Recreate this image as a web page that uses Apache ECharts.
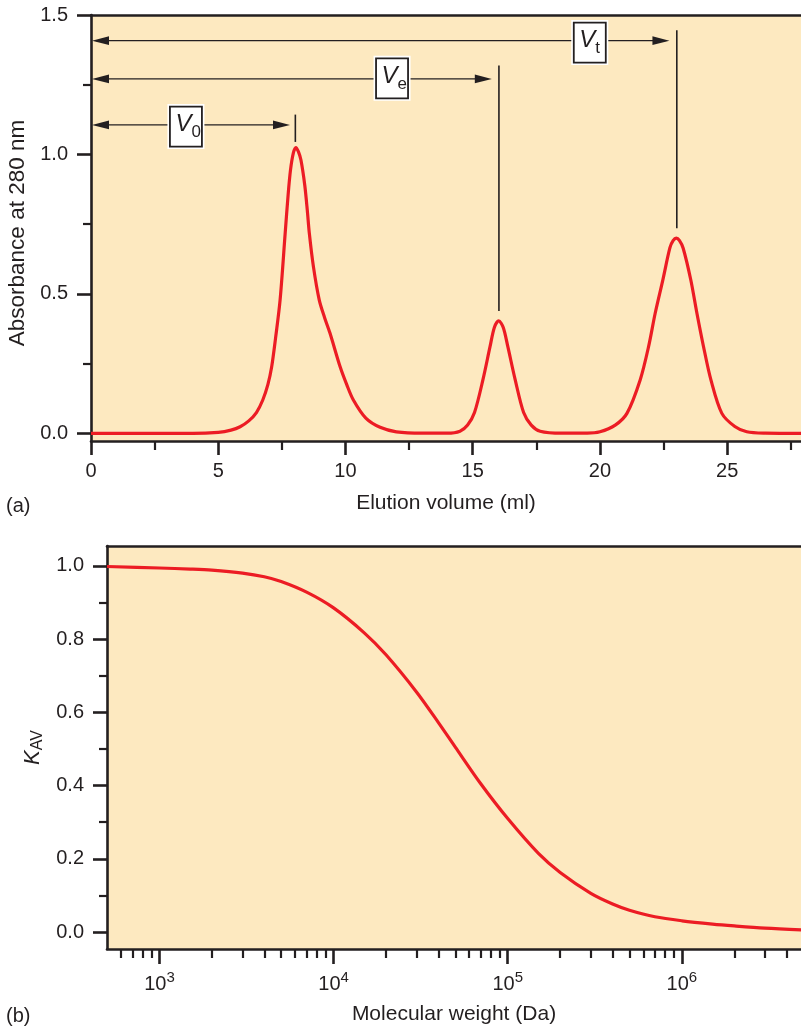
<!DOCTYPE html>
<html>
<head>
<meta charset="utf-8">
<script src="https://cdn.jsdelivr.net/npm/echarts@6/dist/echarts.min.js"></script>
<style>
  html, body { margin: 0; padding: 0; background: #fff; }
  #chart { width: 801px; height: 1027px; }
</style>
</head>
<body>
<div id="chart"></div>
<script>
// (a) elution profile
const elutionVolume = [0, 2, 4, 5, 5.5, 5.86, 6.2, 6.5, 6.75, 6.95, 7.1, 7.25, 7.43, 7.63, 7.75, 7.84, 7.95, 8.05, 8.15, 8.25, 8.4, 8.5, 8.58, 8.74, 8.97, 9.18, 9.39, 9.79, 10.05, 10.31, 10.8, 11.36, 12, 13, 14, 14.5, 14.8, 15.07, 15.4, 15.68, 15.85, 16.02, 16.2, 16.38, 16.67, 17.0, 17.3, 17.65, 18.5, 19.5, 20.0, 20.6, 21.06, 21.58, 21.91, 22.17, 22.47, 22.75, 22.88, 23.0, 23.12, 23.27, 23.57, 23.81, 24.07, 24.36, 24.79, 25.3, 25.77, 26.5, 27.9];
const absorbance    = [0, 0, 0, 0.004, 0.012, 0.024, 0.045, 0.075, 0.12, 0.175, 0.239, 0.34, 0.478, 0.717, 0.86, 0.945, 1.005, 1.025, 1.01, 0.98, 0.89, 0.8, 0.717, 0.598, 0.478, 0.415, 0.36, 0.239, 0.175, 0.12, 0.055, 0.022, 0.006, 0.001, 0.001, 0.008, 0.03, 0.075, 0.192, 0.311, 0.38, 0.404, 0.38, 0.311, 0.192, 0.075, 0.03, 0.008, 0.001, 0.001, 0.006, 0.03, 0.072, 0.192, 0.311, 0.431, 0.55, 0.666, 0.692, 0.70, 0.692, 0.664, 0.55, 0.431, 0.311, 0.192, 0.072, 0.025, 0.006, 0.001, 0];
const absorbanceTicks = [0, 0.5, 1.0, 1.5];
const absorbanceMinor = [0.25, 0.75, 1.25];
const volumeTicks = [0, 5, 10, 15, 20, 25];
const volumeMinor = [2.5, 7.5, 12.5, 17.5, 22.5, 27.5];

// V0 / Ve / Vt markers (data units)
const markerSub    = ['0', 'e', 't'];
const markerLevel  = [1.106, 1.271, 1.408];
const markerTip    = [7.82, 15.75, 22.73];
const markerX      = [8.03, 16.03, 23.02];
const markerTop    = [1.143, 1.319, 1.445];
const markerBottom = [1.045, 0.439, 0.736];
const markerLabelX = [3.73, 11.83, 19.6];
const markerLabelY = [1.1, 1.273, 1.401];

// (b) calibration curve
const molecularWeight = [500, 1000, 1500, 2000, 3000, 4000, 5000, 7000, 10000, 15000, 20000, 30000, 40000, 50000, 70000, 100000, 150000, 200000, 300000, 400000, 500000, 700000, 1000000, 1500000, 2000000, 3000000, 5000000];
const kav             = [0.998, 0.994, 0.991, 0.988, 0.98, 0.97, 0.957, 0.928, 0.885, 0.817, 0.757, 0.655, 0.572, 0.505, 0.405, 0.31, 0.215, 0.163, 0.106, 0.077, 0.06, 0.042, 0.031, 0.022, 0.017, 0.011, 0.006];
const kavTicks = [0, 0.2, 0.4, 0.6, 0.8, 1.0];
const kavMinor = [0.1, 0.3, 0.5, 0.7, 0.9];
const weightTicks = [1e3, 1e4, 1e5, 1e6];
const weightMinor = [600, 700, 800, 900, 2e3, 3e3, 4e3, 5e3, 6e3, 7e3, 8e3, 9e3, 2e4, 3e4, 4e4, 5e4, 6e4, 7e4, 8e4, 9e4, 2e5, 3e5, 4e5, 5e5, 6e5, 7e5, 8e5, 9e5, 2e6, 3e6, 4e6];

const ink = '#231f20';
const red = '#ec1c24';
const paper = '#fde9c0';
const font = '"Liberation Sans", Arial, Helvetica, sans-serif';

function majorAxis(extra) {
    return Object.assign({
        axisLine: {show: true, onZero: false, lineStyle: {color: ink, width: 2.6}},
        axisTick: {show: true, length: 14, lineStyle: {color: ink, width: 2.6}},
        axisLabel: {color: ink, fontSize: 20, fontFamily: font},
        splitLine: {show: false},
        nameTextStyle: {color: ink, fontSize: 21, fontFamily: font}
    }, extra);
}

function minorAxis(extra, ticks, len) {
    return Object.assign({
        axisLine: {show: false, onZero: false},
        axisTick: {show: true, length: len, customValues: ticks, lineStyle: {color: ink, width: 2.2}},
        axisLabel: {show: false},
        splitLine: {show: false}
    }, extra);
}

function borderAxis(extra) {
    return Object.assign({
        position: 'top',
        axisLine: {show: true, onZero: false, lineStyle: {color: ink, width: 2.6}},
        axisTick: {show: false},
        axisLabel: {show: false},
        splitLine: {show: false}
    }, extra);
}

const chart = echarts.init(document.getElementById('chart'), null, {renderer: 'canvas'});

const option = {
    animation: false,
    backgroundColor: '#fff',
    textStyle: {fontFamily: font},
    grid: [
        {left: 91, top: 15, right: 0, height: 426, show: true, backgroundColor: paper, borderWidth: 0, outerBoundsMode: 'none'},
        {left: 107, top: 546, right: 0, bottom: 78, show: true, backgroundColor: paper, borderWidth: 0, outerBoundsMode: 'none'}
    ],
    xAxis: [
        majorAxis({
            gridIndex: 0, type: 'value', position: 'bottom', min: 0, max: 27.9,
            axisTick: {show: true, length: 14, customValues: volumeTicks, lineStyle: {color: ink, width: 2.6}},
            axisLabel: {customValues: volumeTicks, margin: 20, color: ink, fontSize: 20, fontFamily: font},
            name: 'Elution volume (ml)', nameLocation: 'middle', nameGap: 52
        }),
        minorAxis({gridIndex: 0, type: 'value', position: 'bottom', min: 0, max: 27.9}, volumeMinor, 9),
        borderAxis({gridIndex: 0, type: 'value', min: 0, max: 27.9}),
        majorAxis({
            gridIndex: 1, type: 'log', logBase: 10, position: 'bottom', min: 500, max: 4.83e6,
            axisTick: {show: true, length: 15, customValues: weightTicks, lineStyle: {color: ink, width: 2.6}},
            axisLabel: {
                customValues: weightTicks, margin: 21, color: ink,
                formatter: function (v) {
                    return '{b|10}{s|' + Math.round(Math.log10(v)) + '}';
                },
                rich: {
                    b: {fontSize: 20, fontFamily: font, color: ink},
                    s: {fontSize: 15, fontFamily: font, color: ink, padding: [0, 0, 13, 0]}
                }
            },
            name: 'Molecular weight (Da)', nameLocation: 'middle', nameGap: 55
        }),
        minorAxis({gridIndex: 1, type: 'log', logBase: 10, position: 'bottom', min: 500, max: 4.83e6}, weightMinor, 9),
        borderAxis({gridIndex: 1, type: 'log', logBase: 10, min: 500, max: 4.83e6})
    ],
    yAxis: [
        majorAxis({
            gridIndex: 0, type: 'value', position: 'left', min: -0.027, max: 1.5,
            axisTick: {show: true, length: 14, customValues: absorbanceTicks, lineStyle: {color: ink, width: 2.6}},
            axisLabel: {
                customValues: absorbanceTicks, margin: 23, color: ink, fontSize: 20, fontFamily: font,
                formatter: function (v) { return v.toFixed(1); }
            },
            name: 'Absorbance at 280 nm', nameLocation: 'middle', nameGap: 62,
            nameTextStyle: {color: ink, fontSize: 22.5, fontFamily: font, padding: [0, 10, 0, 0]}
        }),
        minorAxis({gridIndex: 0, type: 'value', position: 'left', min: -0.027, max: 1.5}, absorbanceMinor, 8),
        majorAxis({
            gridIndex: 1, type: 'value', position: 'left', min: -0.046, max: 1.054,
            axisTick: {show: true, length: 14, customValues: kavTicks, lineStyle: {color: ink, width: 2.6}},
            axisLabel: {
                customValues: kavTicks, margin: 23, color: ink, fontSize: 20, fontFamily: font,
                formatter: function (v) { return v.toFixed(1); }
            },
            name: '{k|K}{s|AV}', nameLocation: 'middle', nameGap: 58,
            nameTextStyle: {
                color: ink,
                rich: {
                    k: {fontSize: 22, fontStyle: 'italic', fontFamily: font, color: ink},
                    s: {fontSize: 16, fontFamily: font, color: ink, padding: [8, 0, 0, 0]}
                }
            }
        }),
        minorAxis({gridIndex: 1, type: 'value', position: 'left', min: -0.046, max: 1.054}, kavMinor, 8)
    ],
    graphic: [
        {type: 'text', left: 6, top: 496, style: {text: '(a)', fill: ink, font: '20px ' + font}},
        {type: 'text', left: 6, top: 1006, style: {text: '(b)', fill: ink, font: '20px ' + font}}
    ],
    series: [
        {
            type: 'line', xAxisIndex: 0, yAxisIndex: 0,
            data: elutionVolume.map((v, i) => [v, absorbance[i]]),
            smooth: 0.3, showSymbol: false,
            lineStyle: {color: red, width: 3.2}, z: 3
        },
        {
            type: 'custom', xAxisIndex: 0, yAxisIndex: 0, z: 5, clip: false,
            data: markerSub.map((s, i) => [markerTip[i], markerLevel[i]]),
            renderItem: function (params, api) {
                const i = params.dataIndex;
                const left = api.coord([0, markerLevel[i]]);
                const tip = api.coord([markerTip[i], markerLevel[i]]);
                const top = api.coord([markerX[i], markerTop[i]]);
                const bottom = api.coord([markerX[i], markerBottom[i]]);
                const lab = api.coord([markerLabelX[i], markerLabelY[i]]);
                const y = left[1], x0 = left[0] + 1, x1 = tip[0];
                const hl = 17, hw = 4.3;
                return {
                    type: 'group',
                    children: [
                        {type: 'line', shape: {x1: x0 + 4, y1: y, x2: x1 - 4, y2: y}, style: {stroke: ink, lineWidth: 1.4}},
                        {type: 'polygon', shape: {points: [[x0, y], [x0 + hl, y - hw], [x0 + hl, y + hw]]}, style: {fill: ink}},
                        {type: 'polygon', shape: {points: [[x1, y], [x1 - hl, y - hw], [x1 - hl, y + hw]]}, style: {fill: ink}},
                        {type: 'line', shape: {x1: top[0], y1: top[1], x2: bottom[0], y2: bottom[1]}, style: {stroke: ink, lineWidth: 1.6}},
                        {type: 'rect', shape: {x: lab[0] - 18.5, y: lab[1] - 22.5, width: 37, height: 45}, style: {fill: '#fff'}},
                        {type: 'rect', shape: {x: lab[0] - 16, y: lab[1] - 20, width: 32, height: 40}, style: {fill: '#fff', stroke: ink, lineWidth: 1.8}},
                        {type: 'text', style: {text: 'V', x: lab[0] - 10.5, y: lab[1] - 2, fill: ink, font: 'italic 24px ' + font, align: 'left', verticalAlign: 'middle'}},
                        {type: 'text', style: {text: markerSub[i], x: lab[0] + 5.5, y: lab[1] + 6, fill: ink, font: '17px ' + font, align: 'left', verticalAlign: 'middle'}}
                    ]
                };
            }
        },
        {
            type: 'line', xAxisIndex: 3, yAxisIndex: 2,
            data: molecularWeight.map((m, i) => [m, kav[i]]),
            smooth: 0.3, showSymbol: false,
            lineStyle: {color: red, width: 3.2}, z: 3
        }
    ]
};

chart.setOption(option);
</script>
</body>
</html>
